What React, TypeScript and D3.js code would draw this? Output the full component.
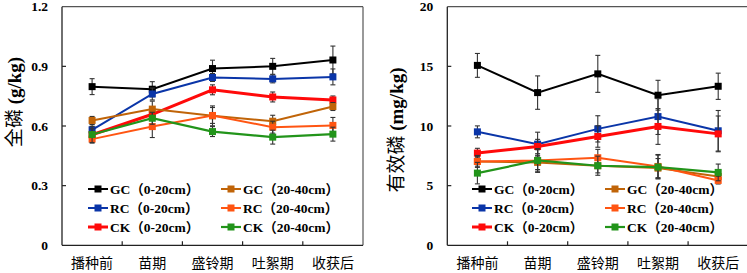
import React from "react";
import * as d3 from "d3";

const categories = ["播种前", "苗期", "盛铃期", "吐絮期", "收获后"];
const seriesNames = ["GC（0-20cm）", "RC（0-20cm）", "CK（0-20cm）", "GC（20-40cm）", "RC（20-40cm）", "CK（20-40cm）"];
const seriesColors = ["#000000", "#0a35a8", "#ff0a0a", "#c06408", "#ff5512", "#22941a"];
const seriesWidths = [2, 2, 3, 2, 2, 2.2];

// 全磷 (g/kg)
const tpGC0 = [0.798, 0.785, 0.889, 0.9, 0.932];
const tpRC0 = [0.581, 0.761, 0.844, 0.837, 0.847];
const tpCK0 = [0.556, 0.659, 0.782, 0.746, 0.731];
const tpGC20 = [0.628, 0.685, 0.651, 0.624, 0.698];
const tpRC20 = [0.534, 0.597, 0.653, 0.594, 0.603];
const tpCK20 = [0.557, 0.639, 0.572, 0.544, 0.559];
const tpErrGC0 = [0.04, 0.038, 0.042, 0.04, 0.07];
const tpErrRC0 = [0.025, 0.03, 0.02, 0.02, 0.04];
const tpErrCK0 = [0.03, 0.03, 0.025, 0.025, 0.02];
const tpErrGC20 = [0.02, 0.04, 0.05, 0.03, 0.02];
const tpErrRC20 = [0.02, 0.055, 0.04, 0.03, 0.04];
const tpErrCK20 = [0.04, 0.03, 0.025, 0.035, 0.035];

// 有效磷 (mg/kg)
const apGC0 = [15.08, 12.8, 14.37, 12.58, 13.33];
const apRC0 = [9.51, 8.48, 9.76, 10.79, 9.6];
const apCK0 = [7.73, 8.28, 9.12, 9.96, 9.34];
const apGC20 = [7.03, 6.95, 6.67, 6.47, 5.77];
const apRC20 = [7.03, 7.11, 7.34, 6.61, 5.44];
const apCK20 = [6.05, 7.11, 6.67, 6.56, 6.11];
const apErrGC0 = [1.0, 1.4, 1.55, 1.25, 1.1];
const apErrRC0 = [0.5, 1.0, 1.1, 1.5, 1.7];
const apErrCK0 = [0.4, 0.6, 0.9, 1.5, 1.5];
const apErrGC20 = [0.5, 0.6, 0.6, 0.8, 0.4];
const apErrRC20 = [0.4, 0.9, 0.7, 1.0, 0.3];
const apErrCK20 = [0.9, 1.0, 0.8, 1.0, 0.7];

const tpTicks = [0, 0.3, 0.6, 0.9, 1.2];
const apTicks = [0, 5, 10, 15, 20];

const SERIF = "'Liberation Serif', 'Times New Roman', 'Noto Sans CJK SC', serif";
const CJK = "'Noto Sans CJK SC', sans-serif";

type PanelProps = {
  left: number;
  right: number;
  top: number;
  bottom: number;
  values: number[][];
  errors: number[][];
  ticks: number[];
  tickFmt: (v: number) => string;
  titleCn: string;
  titleUnit: string;
  titleX: number;
  titleY: number;
  legendX1: number;
  legendX2: number;
};

function Panel(p: PanelProps) {
  const x = d3.scaleBand<string>().domain(categories).range([p.left, p.right]).padding(0);
  const y = d3.scaleLinear().domain([p.ticks[0], p.ticks[p.ticks.length - 1]]).range([p.bottom, p.top]);
  const cx = (c: string) => (x(c) as number) + x.bandwidth() / 2;
  const line = d3
    .line<number>()
    .x((_, i) => cx(categories[i]))
    .y((v) => y(v));
  const legendRows = [189, 208, 227];
  return (
    <g>
      {/* frame */}
      <line x1={p.left} x2={p.right} y1={p.top} y2={p.top} stroke="#555" strokeWidth={1.2} />
      <line x1={p.right} x2={p.right} y1={p.top} y2={p.bottom} stroke="#555" strokeWidth={1.2} />
      <line x1={p.left} x2={p.left} y1={p.top} y2={p.bottom} stroke="#222" strokeWidth={1.3} />
      <line x1={p.left} x2={p.right} y1={p.bottom} y2={p.bottom} stroke="#222" strokeWidth={1.3} />
      {/* y ticks */}
      {p.ticks.map((t) => (
        <g key={t}>
          {t !== p.ticks[0] && t !== p.ticks[p.ticks.length - 1] && (
            <line x1={p.left} x2={p.left + 4} y1={y(t)} y2={y(t)} stroke="#222" strokeWidth={1.2} />
          )}
          <text
            x={p.left - 14}
            y={y(t)}
            dy="0.35em"
            textAnchor="end"
            fontFamily={SERIF}
            fontWeight="bold"
            fontSize={13.5}
          >
            {p.tickFmt(t)}
          </text>
        </g>
      ))}
      {/* x ticks at band boundaries */}
      {categories.slice(1).map((c) => (
        <line key={c} x1={x(c)} x2={x(c)} y1={p.bottom} y2={p.bottom - 4} stroke="#222" strokeWidth={1.2} />
      ))}
      {categories.map((c) => (
        <text key={c} x={cx(c)} y={263} dy="0.35em" textAnchor="middle" fontFamily={CJK} fontSize={14}>
          {c}
        </text>
      ))}
      {/* y title */}
      <text
        transform={`translate(${p.titleX},${p.titleY}) rotate(-90)`}
        textAnchor="middle"
        dy="0.35em"
        fontSize={19}
      >
        <tspan fontFamily={CJK}>{p.titleCn}</tspan>
        <tspan fontFamily={SERIF} fontWeight="bold"> {p.titleUnit}</tspan>
      </text>
      {/* series */}
      {p.values.map((vals, si) => (
        <g key={si}>
          {vals.map((v, i) => {
            const xx = cx(categories[i]);
            const e = p.errors[si][i];
            return (
              <g key={i} stroke="#333" strokeWidth={1.1}>
                <line x1={xx} x2={xx} y1={y(v - e)} y2={y(v + e)} />
                <line x1={xx - 2.5} x2={xx + 2.5} y1={y(v - e)} y2={y(v - e)} />
                <line x1={xx - 2.5} x2={xx + 2.5} y1={y(v + e)} y2={y(v + e)} />
              </g>
            );
          })}
          <path d={line(vals) as string} fill="none" stroke={seriesColors[si]} strokeWidth={seriesWidths[si]} />
          {vals.map((v, i) => (
            <rect
              key={i}
              x={cx(categories[i]) - 3.5}
              y={y(v) - 3.5}
              width={7}
              height={7}
              fill={seriesColors[si]}
            />
          ))}
        </g>
      ))}
      {/* legend */}
      {seriesNames.map((name, si) => {
        const col = si < 3 ? 0 : 1;
        const row = si % 3;
        const lx = col === 0 ? p.legendX1 : p.legendX2;
        const ly = legendRows[row];
        return (
          <g key={name}>
            <line x1={lx} x2={lx + 20} y1={ly} y2={ly} stroke={seriesColors[si]} strokeWidth={seriesWidths[si]} />
            <rect x={lx + 6.5} y={ly - 3.5} width={7} height={7} fill={seriesColors[si]} />
            <text x={lx + 22} y={ly} dy="0.35em" fontFamily={SERIF} fontWeight="bold" fontSize={13.5}>
              {name}
            </text>
          </g>
        );
      })}
    </g>
  );
}

export default function App() {
  return (
    <svg
      width={747}
      height={273}
      style={{ position: "absolute", left: 0, top: 0, background: "#fff" }}
    >
      <rect width={747} height={273} fill="#fff" />
      <Panel
        left={62}
        right={363}
        top={6.7}
        bottom={245.3}
        values={[tpGC0, tpRC0, tpCK0, tpGC20, tpRC20, tpCK20]}
        errors={[tpErrGC0, tpErrRC0, tpErrCK0, tpErrGC20, tpErrRC20, tpErrCK20]}
        ticks={tpTicks}
        tickFmt={(v) => (v === 0 ? "0" : d3.format(".1f")(v))}
        titleCn="全磷"
        titleUnit="(g/kg)"
        titleX={14}
        titleY={102}
        legendX1={88}
        legendX2={221}
      />
      <Panel
        left={447.3}
        right={748.3}
        top={6.7}
        bottom={245.3}
        values={[apGC0, apRC0, apCK0, apGC20, apRC20, apCK20]}
        errors={[apErrGC0, apErrRC0, apErrCK0, apErrGC20, apErrRC20, apErrCK20]}
        ticks={apTicks}
        tickFmt={(v) => String(v)}
        titleCn="有效磷"
        titleUnit="(mg/kg)"
        titleX={396}
        titleY={130}
        legendX1={472}
        legendX2={605}
      />
    </svg>
  );
}
